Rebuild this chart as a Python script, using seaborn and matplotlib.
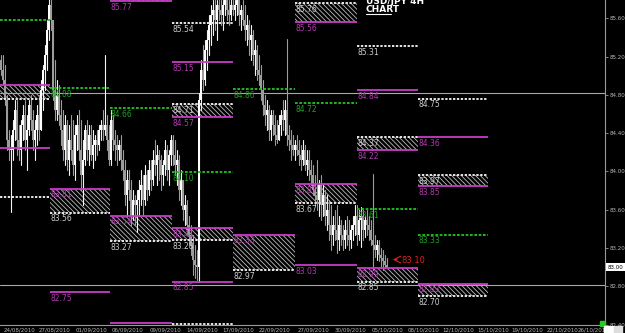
import numpy as np
import pandas as pd
import matplotlib
matplotlib.use("Agg")
import matplotlib.pyplot as plt
import matplotlib.transforms as mtransforms
from matplotlib.patches import Rectangle
import seaborn as sns

# ---------------- data ----------------
first_open = 85.16
high = [85.22, 85.22, 85.11, 84.80, 84.43, 84.38, 84.54, 84.75, 84.75, 84.48,
        84.54, 84.69, 84.75, 84.59, 84.75, 84.80, 84.64, 84.54, 84.69, 84.80,
        84.95, 85.11, 85.32, 85.58, 86.00, 85.89, 85.53, 85.16, 84.95, 84.90,
        84.75, 84.64, 84.59, 84.54, 84.48, 84.59, 84.54, 84.48, 84.59, 84.64,
        84.54, 84.33, 84.48, 84.54, 84.48, 84.48, 84.43, 84.38, 84.43, 84.48,
        84.54, 84.64, 85.22, 84.59, 84.48, 84.64, 84.59, 84.43, 84.38, 84.33,
        84.38, 84.22, 84.12, 84.02, 84.02, 83.91, 83.81, 83.75, 83.81, 83.91,
        84.02, 83.96, 84.07, 84.02, 84.12, 84.12, 84.22, 84.33, 84.28, 84.22,
        84.17, 84.12, 84.33, 84.28, 84.22, 84.38, 84.38, 84.33, 84.22, 84.17,
        84.02, 83.91, 83.75, 83.70, 83.54, 83.44, 83.34, 83.23, 83.18, 84.82,
        85.16, 85.32, 85.37, 85.48, 85.63, 85.74, 85.79, 85.84, 85.79, 85.84,
        85.84, 85.79, 85.87, 85.84, 85.79, 85.82, 85.84, 85.79, 85.84, 85.79,
        85.74, 85.79, 85.74, 85.63, 85.58, 85.53, 85.48, 85.37, 85.32, 85.22,
        85.11, 84.95, 84.80, 84.75, 84.69, 84.64, 84.64, 84.59, 84.54, 84.59,
        84.64, 84.75, 84.75, 85.38, 84.48, 84.43, 84.38, 84.33, 84.38, 84.33,
        84.28, 84.33, 84.28, 84.22, 84.22, 84.12, 84.07, 83.96, 84.12, 83.91,
        83.96, 83.86, 83.81, 83.75, 83.70, 83.65, 83.54, 83.60, 83.65, 83.54,
        83.49, 83.44, 83.49, 83.54, 83.49, 83.44, 83.54, 83.65, 83.65, 83.60,
        83.63, 83.60, 83.54, 83.60, 83.54, 83.49, 83.97, 83.34, 83.28, 83.28,
        83.20, 83.18, 83.13, 83.10]
low = [85.01, 84.90, 84.69, 84.22, 84.12, 83.58, 84.12, 84.33, 84.17, 84.12,
       84.07, 84.33, 84.22, 84.02, 84.38, 84.43, 84.22, 84.12, 84.28, 84.33,
       84.43, 84.64, 84.85, 85.06, 85.37, 85.48, 84.75, 84.54, 84.54, 84.48,
       84.28, 84.12, 84.07, 84.02, 83.96, 84.12, 83.96, 83.91, 84.22, 84.12,
       83.81, 83.65, 84.07, 84.12, 84.07, 84.12, 84.04, 84.12, 84.17, 84.22,
       84.33, 84.33, 84.38, 84.22, 84.07, 84.07, 84.22, 84.12, 84.07, 84.12,
       84.02, 83.91, 83.65, 83.54, 83.70, 83.44, 83.49, 83.44, 83.37, 83.54,
       83.65, 83.54, 83.65, 83.70, 83.75, 83.81, 83.86, 83.96, 83.86, 83.91,
       83.81, 83.86, 83.96, 83.91, 83.86, 84.07, 84.07, 83.96, 83.86, 83.70,
       83.65, 83.49, 83.44, 83.34, 83.23, 83.13, 82.92, 82.89, 82.87, 82.85,
       84.64, 84.85, 84.90, 85.06, 85.22, 85.32, 85.42, 85.48, 85.37, 85.58,
       85.53, 85.48, 85.63, 85.58, 85.53, 85.58, 85.63, 85.58, 85.63, 85.53,
       85.48, 85.53, 85.37, 85.32, 85.22, 85.16, 85.11, 85.01, 84.95, 84.90,
       84.75, 84.59, 84.48, 84.43, 84.33, 84.33, 84.38, 84.28, 84.30, 84.33,
       84.38, 84.43, 84.38, 84.28, 84.22, 84.12, 84.17, 84.12, 84.17, 84.07,
       84.02, 84.07, 84.02, 83.96, 83.91, 83.86, 83.75, 83.65, 83.60, 83.54,
       83.49, 83.54, 83.44, 83.39, 83.28, 83.18, 83.23, 83.28, 83.15, 83.18,
       83.23, 83.18, 83.20, 83.23, 83.18, 83.20, 83.28, 83.34, 83.23, 83.28,
       83.21, 83.28, 83.32, 83.34, 83.28, 83.23, 82.97, 83.11, 83.08, 83.06,
       82.99, 82.97, 82.99, 82.99]
close = [85.06, 84.95, 84.75, 84.33, 84.22, 84.22, 84.43, 84.64, 84.33, 84.22,
         84.48, 84.59, 84.33, 84.43, 84.69, 84.54, 84.33, 84.43, 84.59, 84.43,
         84.85, 85.06, 85.22, 85.48, 85.74, 85.58, 84.85, 84.64, 84.80, 84.59,
         84.43, 84.22, 84.48, 84.12, 84.33, 84.22, 84.07, 84.38, 84.48, 84.22,
         83.96, 84.12, 84.43, 84.22, 84.38, 84.17, 84.28, 84.33, 84.28, 84.43,
         84.48, 84.43, 84.48, 84.33, 84.12, 84.54, 84.33, 84.28, 84.22, 84.28,
         84.12, 84.02, 83.75, 83.91, 83.81, 83.54, 83.70, 83.65, 83.70, 83.81,
         83.86, 83.70, 83.96, 83.81, 84.02, 83.91, 84.12, 84.07, 84.17, 84.12,
         83.96, 84.07, 84.22, 84.02, 84.17, 84.33, 84.17, 84.07, 84.12, 83.81,
         83.91, 83.60, 83.65, 83.44, 83.34, 83.23, 83.08, 83.02, 83.00, 84.75,
         85.06, 84.95, 85.27, 85.37, 85.53, 85.63, 85.69, 85.58, 85.74, 85.69,
         85.63, 85.74, 85.79, 85.69, 85.63, 85.74, 85.69, 85.74, 85.79, 85.63,
         85.69, 85.58, 85.48, 85.53, 85.37, 85.42, 85.22, 85.27, 85.06, 85.01,
         84.85, 84.69, 84.59, 84.64, 84.43, 84.59, 84.48, 84.38, 84.33, 84.48,
         84.59, 84.54, 84.64, 84.38, 84.33, 84.28, 84.22, 84.28, 84.22, 84.17,
         84.12, 84.22, 84.07, 84.12, 84.02, 83.96, 83.81, 83.75, 83.70, 83.86,
         83.65, 83.75, 83.54, 83.60, 83.44, 83.34, 83.44, 83.39, 83.28, 83.44,
         83.34, 83.28, 83.39, 83.34, 83.28, 83.39, 83.44, 83.54, 83.34, 83.49,
         83.54, 83.39, 83.49, 83.44, 83.39, 83.28, 83.23, 83.18, 83.23, 83.13,
         83.10, 83.06, 83.02, 83.00]

date_labels = ["24/08/2010", "27/08/2010", "01/09/2010", "06/09/2010", "09/09/2010",
               "14/09/2010", "17/09/2010", "22/09/2010", "27/09/2010", "30/09/2010",
               "05/10/2010", "08/10/2010", "12/10/2010", "15/10/2010", "19/10/2010",
               "22/10/2010", "26/10/2010"]
date_bars = [9.5, 27, 45, 63, 82, 100.5, 118.5, 137, 156.5, 174.5,
             193.5, 211, 228.5, 246, 263, 281, 296.5]
price_ticks = [85.60, 85.20, 84.80, 84.40, 84.00, 83.60, 83.20, 82.80, 82.40]

week_start = [-0.5, 24.5, 54.5, 85.5, 116, 147, 178, 208.5]
week_end = [24.5, 54.5, 85.5, 116, 147, 178, 208.5, 243.5]

# weekly levels: week index, price, kind, label
lvl_week = [0, 0, 0, 0, 0,
            1, 1, 1, 1,
            2, 2, 2, 2, 2,
            3, 3, 3, 3, 3, 3, 3, 3, 3,
            4, 4, 4,
            5, 5, 5, 5, 5, 5,
            6, 6, 6, 6, 6, 6, 6,
            7, 7, 7, 7, 7, 7, 7]
lvl_price = [85.58, 84.90, 84.76, 84.25, 83.73,
             84.87, 83.82, 83.57, 82.74,
             85.78, 84.66, 83.54, 83.27, 82.42,
             85.55, 85.14, 84.70, 84.57, 83.99, 83.41, 83.28, 82.85, 82.41,
             84.86, 83.34, 82.97,
             85.76, 85.56, 84.71, 83.87, 83.67, 83.02,
             85.31, 84.85, 84.36, 84.22, 83.61, 82.99, 82.85,
             84.76, 84.36, 83.96, 83.85, 83.34, 82.83, 82.70]
lvl_kind = ["g", "m", "w", "m", "w",
            "g", "m", "w", "m",
            "m", "g", "m", "w", "m",
            "w", "m", "w", "m", "g", "m", "w", "m", "w",
            "g", "m", "w",
            "w", "m", "g", "m", "w", "m",
            "w", "m", "w", "m", "g", "m", "w",
            "w", "m", "w", "m", "g", "m", "w"]
lvl_label = ["", "", "", "", "",
             "84.88", "83.81", "83.56", "82.75",
             "85.77", "84.66", "83.54", "83.27", "82.42",
             "85.54", "85.15", "84.71", "84.57", "84.10", "83.41", "83.28", "82.85", "82.41",
             "84.86", "83.33", "82.97",
             "85.76", "85.56", "84.72", "83.87", "83.67", "83.03",
             "85.31", "84.84", "84.37", "84.22", "83.61", "82.99", "82.85",
             "84.75", "84.36", "83.97", "83.85", "83.33", "82.83", "82.70"]

# hatched zones: week index, top, bottom
zone_week = [0, 1, 2, 2, 3, 3, 4, 5, 5, 6, 6, 7, 7]
zone_top = [84.90, 83.82, 86.10, 83.54, 84.70, 83.41, 83.34, 85.76, 83.87, 84.36, 82.99, 83.96, 82.83]
zone_bottom = [84.76, 83.57, 85.78, 83.27, 84.57, 83.28, 82.97, 85.56, 83.67, 84.22, 82.85, 83.85, 82.70]

round_levels = [84.82, 82.81]
current_price = 83.00
marker_price = 83.08
marker_label = "83.10"

# ---------------- style ----------------
sns.set_theme(style="dark", rc={"axes.facecolor": "black", "figure.facecolor": "black",
                                "axes.grid": False})
plt.rcParams["font.family"] = ["DejaVu Sans"]
plt.rcParams["hatch.linewidth"] = 0.6

W, H = 625, 333
fig = plt.figure(figsize=(W / 100, H / 100), dpi=100)
fig.patch.set_facecolor("black")
ax = fig.add_axes([0, 8 / H, 605 / W, 325 / H])
ax.set_facecolor("black")

ymin, ymax = 82.397, 85.79
ax.set_ylim(ymin, ymax)
ax.set_xlim(-0.5, 302)

# hatched zones
for wk, t, b in zip(zone_week, zone_top, zone_bottom):
    ax.fill_between([week_start[wk], week_end[wk]], b, t, facecolor="none",
                    edgecolor="#bdbdbd", hatch="\\" * 7, linewidth=0, zorder=1)

# candles
n = len(close)
opens = [first_open] + close[:-1]
bars = np.arange(n)
df = pd.DataFrame({"bar": bars, "open": opens, "high": high, "low": low, "close": close})
df["up"] = df["close"] >= df["open"]
df["top"] = df[["open", "close", "high"]].max(axis=1)
df["bot"] = df[["open", "close", "low"]].min(axis=1)
wick = pd.concat([
    df[["bar", "top", "up"]].rename(columns={"top": "price"}),
    df[["bar", "bot", "up"]].rename(columns={"bot": "price"}),
]).sort_values(["bar", "price"])
wick["dir"] = np.where(wick["up"], "up", "down")
sns.lineplot(data=wick, x="bar", y="price", units="bar", estimator=None, hue="dir",
             palette={"up": "#f2f2f2", "down": "#9c9c9c"}, legend=False,
             linewidth=0.8, ax=ax, zorder=3)
body_h = (df["close"] - df["open"]).abs().clip(lower=0.012)
body_b = df[["open", "close"]].min(axis=1)
ax.bar(df["bar"], body_h, bottom=body_b, width=0.75,
       color=np.where(df["up"], "#ffffff", "#9c9c9c"), linewidth=0, zorder=3)

# round-number grey lines
for p in round_levels:
    ax.axhline(p, color="#a8a8a8", lw=0.8, zorder=2)

# weekly levels
styles = {
    "m": dict(color="#c83cc8", lw=1.3, ls="-"),
    "w": dict(color="#e6e6e6", lw=1.4, ls=(0, (1.2, 0.8))),
    "g": dict(color="#22c322", lw=1.3, ls=(0, (1.5, 0.9))),
}
label_col = {"m": "#b13ab1", "w": "#cfcfcf", "g": "#1fa01f"}
for wk, p, k, lab in zip(lvl_week, lvl_price, lvl_kind, lvl_label):
    x0, x1 = week_start[wk], week_end[wk]
    ax.plot([x0, x1], [p, p], zorder=4, solid_capstyle="butt", **styles[k])
    if lab:
        ax.text(x0 + 0.3, p - 0.018, lab, color=label_col[k], fontsize=5.5,
                va="top", ha="left", zorder=5, clip_on=True)

# marker arrow near last price
ax.annotate("", xy=(194.5, marker_price), xytext=(199.5, marker_price),
            arrowprops=dict(arrowstyle="->", color="#e02020", lw=0.8), zorder=6)
ax.text(200, marker_price - 0.01, marker_label, color="#d82020", fontsize=6,
        va="center", ha="left", zorder=6)

# axes cosmetics
for s in ["left", "top"]:
    ax.spines[s].set_visible(False)
for s in ["right", "bottom"]:
    ax.spines[s].set_color("#9a9a9a")
    ax.spines[s].set_linewidth(0.8)
ax.yaxis.tick_right()
ax.set_yticks(price_ticks)
ax.set_yticklabels([f"{v:.2f}" for v in price_ticks])
ax.tick_params(axis="y", colors="#b8b8b8", labelsize=4, length=2, width=0.5, pad=1.5)
ax.set_xticks(date_bars)
ax.set_xticklabels(date_labels)
ax.tick_params(axis="x", colors="#b8b8b8", labelsize=4, length=0, pad=1.5)
ax.set_xlabel("")
ax.set_ylabel("")

# current price box
trans = mtransforms.blended_transform_factory(ax.transAxes, ax.transData)
ax.text(1.004, current_price, f"{current_price:.2f}", transform=trans, fontsize=4,
        color="black", va="center", ha="left",
        bbox=dict(boxstyle="square,pad=0.25", fc="white", ec="none"), clip_on=False)

# title
fig.text(366 / W, 1 - 1 / H, "USD/JPY 4H", color="white", fontsize=6.5,
         fontweight="bold", va="center", ha="left")
fig.text(366 / W, 1 - 9 / H, "CHART", color="white", fontsize=6.5,
         fontweight="bold", va="center", ha="left")
fig.add_artist(plt.Line2D([366 / W, 391 / W], [1 - 13.5 / H, 1 - 13.5 / H],
                          color="white", lw=0.8, transform=fig.transFigure))

# corner widgets
fig.add_artist(Rectangle((600 / W, 7 / H), 5 / W, 5 / H, color="#22cc22",
                         transform=fig.transFigure))
fig.add_artist(Rectangle((604 / W, 0), 9 / W, 7 / H, color="white",
                         transform=fig.transFigure))
fig.add_artist(Rectangle((614 / W, 0), 8 / W, 7 / H, color="#dddddd",
                         transform=fig.transFigure))

fig.savefig("out.png", dpi=100, facecolor="black")
